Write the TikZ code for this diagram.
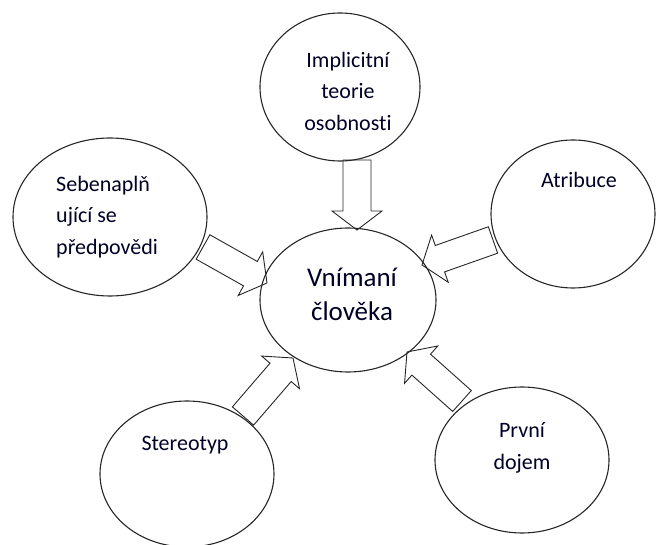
\documentclass[tikz,border=0pt]{standalone}
\usepackage{fontspec}
\setmainfont{Carlito}[Ligatures=NoCommon]
\usetikzlibrary{calc,shapes.geometric}
\newcommand\blockarrow[2]{%
  \coordinate (#1-#2-h) at ($(#2)!19pt!(#1)$);
  \draw[blockarr] ($(#1)!14pt!90:(#2)$) -- ($(#1-#2-h)!14pt!90:(#2)$)
    -- ($(#1-#2-h)!25pt!90:(#2)$) -- (#2)
    -- ($(#1-#2-h)!25pt!-90:(#2)$) -- ($(#1-#2-h)!14pt!-90:(#2)$)
    -- ($(#1)!14pt!-90:(#2)$) -- cycle;}
\begin{document}
\begin{tikzpicture}[x=1pt,y=-1pt,
  oval/.style={draw=black!85, line width=1.1pt, ellipse, inner sep=0pt},
  blockarr/.style={draw=black!85, line width=0.9pt, line join=miter},
  lbl/.style={font=\fontsize{22}{31.5}\selectfont, text=black!85!blue, inner sep=0pt},
  biglbl/.style={font=\fontsize{27}{34}\selectfont, text=black!85!blue, inner sep=0pt}]
\useasboundingbox (0,0) rectangle (657,545);
% ellipses
\node[oval, minimum width=160pt, minimum height=148pt] (top) at (340,87) {};
\node[oval, minimum width=176pt, minimum height=144pt] (mid) at (348,300) {};
\node[oval, minimum width=194pt, minimum height=158pt] (left) at (110,217) {};
\node[oval, minimum width=164pt, minimum height=148pt] (right) at (573,214) {};
\node[oval, minimum width=174pt, minimum height=146pt] (bl) at (187,474) {};
\node[oval, minimum width=174pt, minimum height=146pt] (br) at (522,460) {};
% texts
\node[lbl, align=center] (ttop) at (348,91) {Implicitní\\teorie\\osobnosti};
\node[biglbl, align=center] (tmid) at (352,294) {Vnímaní\\člověka};
\node[lbl, align=left, anchor=west] (tleft) at (56,217) {Sebenaplň\\ující se\\předpovědi};
\node[lbl] (tright) at (579,180) {Atribuce};
\node[lbl] (tbl) at (185,445) {Stereotyp};
\node[lbl, align=center] (tbr) at (522,448) {První\\dojem};
% arrow end points
\coordinate (a1t) at (357,160); \coordinate (a1p) at (357,230);
\coordinate (a2t) at (203,247); \coordinate (a2p) at (267,283);
\coordinate (a3t) at (493,240); \coordinate (a3p) at (422,265);
\coordinate (a4t) at (243,416); \coordinate (a4p) at (293,358);
\coordinate (a5t) at (462,401); \coordinate (a5p) at (407,352);
\blockarrow{a1t}{a1p}
\blockarrow{a2t}{a2p}
\blockarrow{a3t}{a3p}
\blockarrow{a4t}{a4p}
\blockarrow{a5t}{a5p}
\end{tikzpicture}
\end{document}
